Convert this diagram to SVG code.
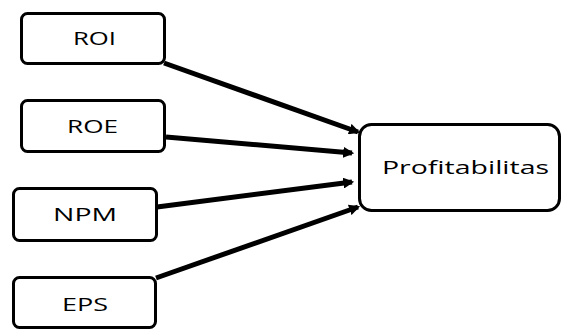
<svg xmlns="http://www.w3.org/2000/svg" width="562" height="332" viewBox="0 0 562 332">
<defs>
<style>
.box{fill:#fff;stroke:#000;stroke-width:3}
.lbl{font-family:"Open Sans","Liberation Sans",sans-serif;font-size:19px;fill:#000}
.edge{stroke:#000;stroke-width:5;fill:none;marker-end:url(#ah)}
</style>
<marker id="ah" viewBox="0 0 10 10" refX="8" refY="5" markerWidth="2.2" markerHeight="2.2" orient="auto" markerUnits="strokeWidth">
<path d="M0,0 L10,5 L0,10 z" fill="#000"/>
</marker>
</defs>
<rect width="562" height="332" fill="#fff"/>
<g id="connectors">
<line class="edge" x1="164" y1="63" x2="358" y2="132"/>
<line class="edge" x1="166" y1="137" x2="352" y2="153"/>
<line class="edge" x1="157" y1="207" x2="352" y2="182"/>
<line class="edge" x1="156" y1="278" x2="358" y2="207"/>
</g>
<g id="roi"><rect class="box" x="21.5" y="13.5" width="143" height="50" rx="6"/><text class="lbl" x="73" y="45" textLength="43" lengthAdjust="spacingAndGlyphs">ROI</text></g>
<g id="roe"><rect class="box" x="21.5" y="100.5" width="143" height="51" rx="6"/><text class="lbl" x="67" y="133" textLength="51" lengthAdjust="spacingAndGlyphs">ROE</text></g>
<g id="npm"><rect class="box" x="13.5" y="188.5" width="143" height="52" rx="6"/><text class="lbl" x="53" y="221" textLength="64" lengthAdjust="spacingAndGlyphs">NPM</text></g>
<g id="eps"><rect class="box" x="13.5" y="277.5" width="142" height="50" rx="6"/><text class="lbl" x="62" y="311" textLength="46" lengthAdjust="spacingAndGlyphs">EPS</text></g>
<g id="profitabilitas"><rect class="box" x="359.5" y="124.5" width="200" height="86" rx="12"/><text class="lbl" x="382" y="173.5" textLength="167" lengthAdjust="spacingAndGlyphs">Profitabilitas</text></g>
</svg>
